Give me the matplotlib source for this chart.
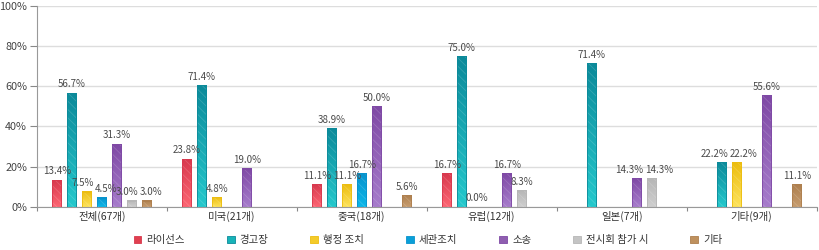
import numpy as np
import matplotlib
matplotlib.use("Agg")
import matplotlib.pyplot as plt
from matplotlib.colors import LinearSegmentedColormap
from matplotlib.patches import Patch

plt.rcParams['font.family'] = ['Noto Sans CJK KR', 'DejaVu Sans']
plt.rcParams['hatch.linewidth'] = 0.6

# 데이터
categories = ['전체(67개)', '미국(21개)', '중국(18개)', '유럽(12개)', '일본(7개)', '기타(9개)']
series = ['라이선스', '경고장', '행정 조치', '세관조치', '소송', '전시회 참가 시', '기타']

nan = np.nan
license_ = [13.4, 23.8, 11.1, 16.7, nan, nan]
warning = [56.7, 60.6, 38.9, 75.0, 71.4, 22.2]     # 미국 막대는 그림상 ~60.6 높이
admin = [7.5, 4.8, 11.1, 0.0, nan, 22.2]
customs = [4.5, nan, 16.7, nan, nan, nan]
lawsuit = [31.3, 19.0, 50.0, 16.7, 14.3, 55.6]
exhibit = [3.0, nan, nan, 8.3, 14.3, nan]
other = [3.0, nan, 5.6, nan, nan, 11.1]
values = [license_, warning, admin, customs, lawsuit, exhibit, other]

# 표시 라벨이 막대 높이와 다른 경우
label_override = {(1, 1): '71.4%'}

# 색상 (위쪽 진한색, 아래쪽 밝은색, 범례색)
top_colors = ['#d8394e', '#0c8a9a', '#ecbd10', '#0893cd', '#7f49a5', '#b6b6b6', '#ae7f4e']
bottom_colors = ['#fc6572', '#24c8cc', '#fde25a', '#0cb6e8', '#a67ccb', '#cecece', '#c69c6e']
legend_colors = ['#e0404f', '#17b3b8', '#f4cb2a', '#0a9fd8', '#8f5eb0', '#c4c4c4', '#bf915e']

W, H = 820, 250
DPI = 100
fig = plt.figure(figsize=(W / DPI, H / DPI), dpi=DPI)
ax = fig.add_axes([36.7 / W, (H - 206.7) / H, 780 / W, 200.7 / H])

n = len(series)
step = 15 / 130
bar_w = 9.5 / 130
x = np.arange(len(categories)) + 0.5

group_labels = [[] for _ in categories]
for i in range(n):
    cmap = LinearSegmentedColormap.from_list('g%d' % i, [bottom_colors[i], top_colors[i]])
    xs = x + (i - (n - 1) / 2) * step
    for j, v in enumerate(values[i]):
        if np.isnan(v):
            continue
        x0 = xs[j] - bar_w / 2
        if v > 0:
            grad = np.linspace(1, 0, 50).reshape(-1, 1)
            ax.imshow(grad, cmap=cmap, extent=[x0, x0 + bar_w, 0, v],
                      aspect='auto', zorder=2, interpolation='bilinear')
            ax.bar(xs[j], v, bar_w, facecolor='none', edgecolor=(1, 1, 1, 0.16),
                   hatch='\\\\\\\\', linewidth=0, zorder=3)
            ax.bar(xs[j], v, bar_w, facecolor='none', edgecolor=top_colors[i],
                   linewidth=0.6, zorder=4)
        lab = label_override.get((i, j), '%.1f%%' % v)
        t = ax.annotate(lab, (xs[j], v), xytext=(0, 2.5), textcoords='offset points',
                        ha='center', va='bottom', fontsize=7, color='#4a4a4a', zorder=5)
        group_labels[j].append(t)

ax.set_xlim(0, len(categories))
ax.set_ylim(0, 100)
ax.set_yticks(np.arange(0, 101, 20))
ax.set_yticklabels(['%d%%' % t for t in range(0, 101, 20)])
ax.set_xticks(np.arange(0, len(categories) + 1), minor=False)
ax.set_xticklabels([])
ax.set_xticks(x, minor=True)
ax.set_xticklabels(categories, minor=True)
ax.tick_params(axis='x', which='major', length=3, color='#888888', direction='out')
ax.tick_params(axis='x', which='minor', length=0, labelsize=7.5, labelcolor='#333333', pad=3)
ax.tick_params(axis='y', length=5, color='#888888', labelsize=7.8, labelcolor='#444444', pad=2)

ax.yaxis.grid(True, color='#dddddd', linewidth=1)
ax.set_axisbelow(True)
for s in ['top', 'right']:
    ax.spines[s].set_visible(False)
ax.spines['left'].set_color('#999999')
ax.spines['bottom'].set_color('#999999')

# 겹치는 값 라벨을 좌우로 밀어내기
fig.canvas.draw()
renderer = fig.canvas.get_renderer()
pad = 1.5
for labels in group_labels:
    for _ in range(30):
        moved = False
        for a, b in zip(labels[:-1], labels[1:]):
            ba = a.get_window_extent(renderer)
            bb = b.get_window_extent(renderer)
            ox = ba.x1 + pad - bb.x0
            oy = min(ba.y1, bb.y1) - max(ba.y0, bb.y0)
            if ox > 0 and oy > 1:
                d = ox / 2 * 72 / DPI
                a.xyann = (a.xyann[0] - d, a.xyann[1])
                b.xyann = (b.xyann[0] + d, b.xyann[1])
                moved = True
        if not moved:
            break
        fig.canvas.draw()

handles = [Patch(facecolor=c, edgecolor=t, linewidth=0.6) for c, t in zip(legend_colors, top_colors)]
fig.legend(handles, series, loc='center', bbox_to_anchor=(0.522, 0.04), ncol=n,
           frameon=False, fontsize=7.5, handlelength=0.75, handleheight=0.75,
           handletextpad=0.5, columnspacing=4.0, labelcolor='#333333')

fig.savefig('out.png', dpi=DPI)
